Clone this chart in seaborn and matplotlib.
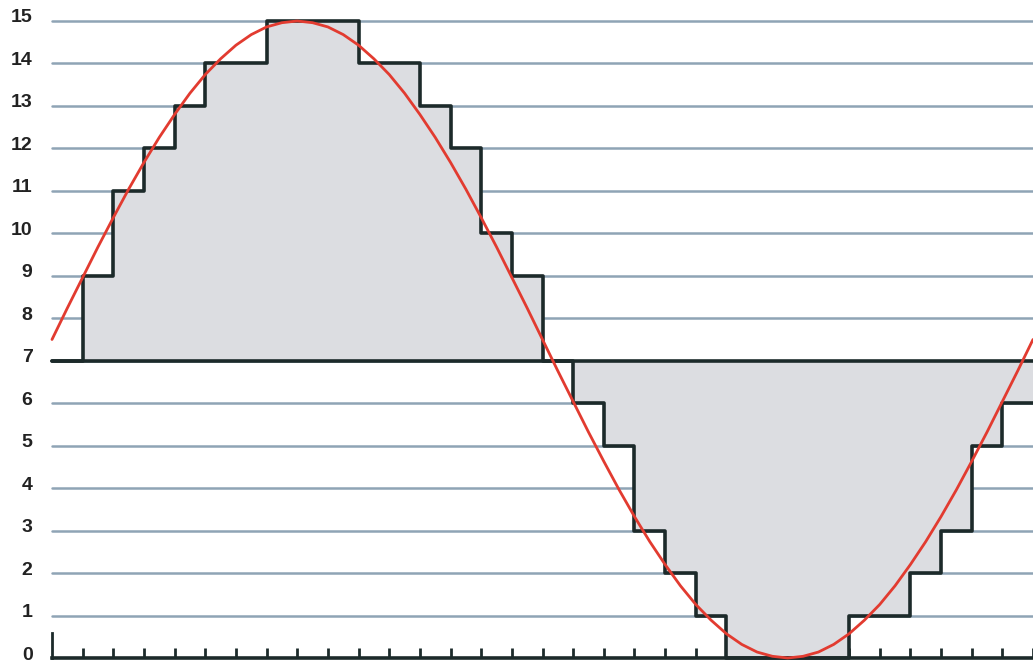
import numpy as np
import pandas as pd
import matplotlib
matplotlib.use('Agg')
import matplotlib.pyplot as plt
import matplotlib.transforms as mtransforms
import seaborn as sns

# Quantized levels, one per sample interval (32 intervals)
levels = [7, 9, 11, 12, 13, 14, 14, 15, 15, 15, 14, 14, 13, 12, 10, 9,
          7, 6, 5, 3, 2, 1, 0, 0, 0, 0, 1, 1, 2, 3, 5, 6]
# Analog signal read every half tick (65 readings)
signal = [7.50, 8.24, 8.96, 9.68, 10.37, 11.04, 11.67, 12.26, 12.80, 13.30,
          13.74, 14.11, 14.43, 14.68, 14.86, 14.96, 15.00, 14.96, 14.86, 14.68,
          14.43, 14.11, 13.74, 13.30, 12.80, 12.26, 11.67, 11.04, 10.37, 9.68,
          8.96, 8.24, 7.50, 6.76, 6.04, 5.32, 4.63, 3.96, 3.33, 2.74,
          2.20, 1.70, 1.26, 0.89, 0.57, 0.32, 0.14, 0.04, 0.00, 0.04,
          0.14, 0.32, 0.57, 0.89, 1.26, 1.70, 2.20, 2.74, 3.33, 3.96,
          4.63, 5.32, 6.04, 6.76, 7.50]
y_labels = [str(v) for v in range(16)]
midline = 7

ticks = np.arange(len(levels) + 1)
steps = pd.DataFrame({'t': ticks, 'level': levels + [levels[-1]]})
analog = pd.DataFrame({'t': np.arange(len(signal)) / 2, 'value': signal})

sns.set_style('white')
plt.rcParams['font.family'] = ['Liberation Sans', 'DejaVu Sans']

dark = '#1c2a2a'
grid_c = '#8fa4b5'

fig = plt.figure(figsize=(10.33, 6.63), dpi=100)
ax = fig.add_axes([52 / 1033, 5 / 663, 981 / 1033, 637 / 663])

# horizontal grid
for v in range(1, 16):
    ax.axhline(v, color=grid_c, lw=1.8, zorder=1, clip_on=False)

# shaded area between staircase and midline
ax.fill_between(steps['t'], midline, steps['level'], step='post',
                color='#dcdde1', lw=0, zorder=2)
ax.axhline(midline, color=dark, lw=2.6, zorder=3, clip_on=False)

sns.lineplot(data=steps, x='t', y='level', drawstyle='steps-post',
             color=dark, lw=2.6, ax=ax, zorder=4, clip_on=False)
sns.lineplot(data=analog, x='t', y='value', color='#e23b30', lw=2,
             ax=ax, zorder=5, clip_on=False)

ax.set_xlim(0, len(levels))
ax.set_ylim(0, 15)
ax.set_xlabel('')
ax.set_ylabel('')

ax.set_xticks(ticks[1:])
ax.set_xticklabels([])
ax.tick_params(axis='x', direction='in', length=7, width=2, color=dark,
               bottom=True)
ax.set_yticks(range(16))
ax.set_yticklabels(y_labels, fontsize=14, fontweight='bold', color='#222222')
ax.tick_params(axis='y', length=0, pad=14)
# labels sit a little above their grid line
shift = mtransforms.ScaledTranslation(0, 5 / 100, fig.dpi_scale_trans)
for lab in ax.get_yticklabels():
    lab.set_transform(lab.get_transform() + shift)

for s in ['top', 'right']:
    ax.spines[s].set_visible(False)
ax.spines['bottom'].set_color(dark)
ax.spines['bottom'].set_linewidth(2.6)
ax.spines['left'].set_color(dark)
ax.spines['left'].set_linewidth(2)
ax.spines['left'].set_bounds(0, 0.6)

fig.savefig('out.png', dpi=100)
plt.close(fig)
